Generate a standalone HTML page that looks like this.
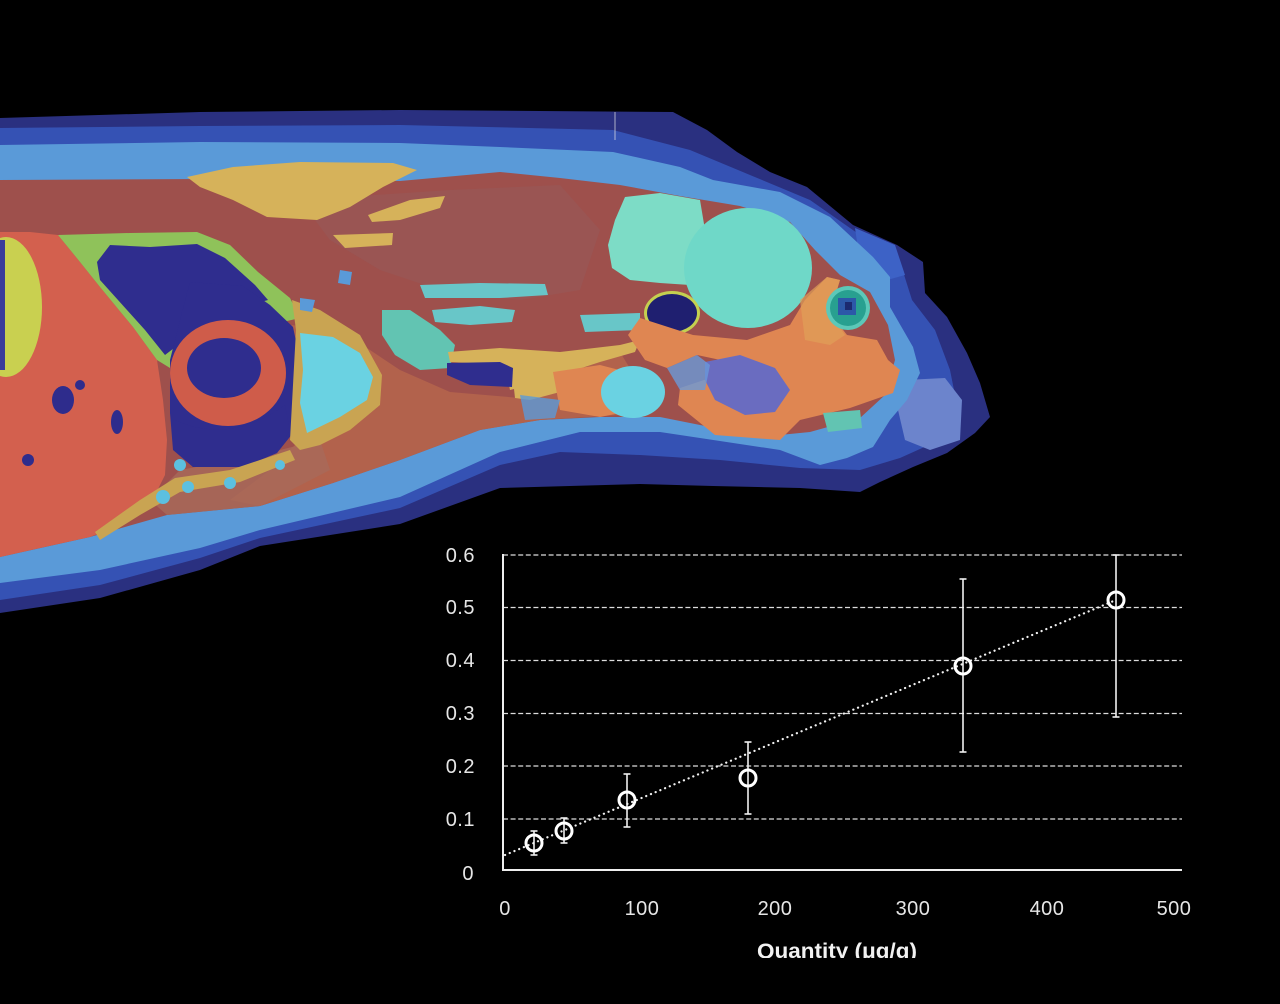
<!DOCTYPE html>
<html><head><meta charset="utf-8"><style>
html,body{margin:0;padding:0;background:#000;}
svg{display:block;}
text{font-family:"Liberation Sans","DejaVu Sans",sans-serif;}
</style></head><body>
<svg width="1280" height="1004" viewBox="0 0 1280 1004" xmlns="http://www.w3.org/2000/svg">
<rect width="1280" height="1004" fill="#000"/>
<defs><clipPath id="tclip"><rect x="0" y="0" width="1280" height="958"/></clipPath></defs>

<!-- outer navy -->
<path fill="#2a3080" d="M0,118 L200,112 L400,110 L673,112 L707,130 L737,152 L770,172 L807,187 L853,225 L897,245 L923,262 L925,293 L947,317 L967,353 L980,383 L990,417 L975,433 L947,453 L913,467 L880,482 L860,492 L800,488 L713,486 L640,484 L500,488 L400,524 L260,546 L200,570 L100,598 L0,613 Z"/>
<!-- mid blue band -->
<path fill="#3552b4" d="M0,128 L200,126 L400,125 L613,130 L690,150 L750,175 L810,200 L860,235 L900,262 L912,300 L935,330 L950,370 L958,410 L940,440 L900,458 L860,470 L800,468 L720,460 L640,455 L560,452 L500,465 L400,508 L260,538 L200,558 L100,585 L0,600 Z"/>
<!-- lighter patches in head navy -->
<path fill="#3d62c6" d="M855,228 L895,245 L905,275 L880,282 L860,262 Z"/>
<path fill="#6c84cc" d="M905,380 L945,378 L962,400 L960,440 L930,450 L905,440 L898,410 Z"/>
<!-- light blue skin -->
<path fill="#5a9ad8" d="M0,145 L200,142 L400,143 L500,147 L613,152 L680,167 L713,180 L780,192 L830,217 L873,257 L890,277 L890,307 L913,347 L920,373 L907,400 L890,420 L873,447 L847,458 L820,465 L780,450 L700,438 L660,432 L580,432 L500,452 L400,497 L260,530 L200,548 L100,570 L0,583 Z"/>
<!-- brown interior -->
<path fill="#9e504c" d="M0,180 L200,179 L400,181 L500,172 L560,178 L620,185 L680,196 L740,206 L790,222 L815,250 L840,275 L870,292 L888,325 L895,360 L885,395 L860,418 L810,432 L760,437 L700,425 L660,417 L600,417 L540,420 L480,430 L400,460 L333,483 L260,506 L167,515 L90,537 L0,557 Z"/>
<!-- lower orange-brown zone -->
<path fill="#b4644c" d="M290,325 L340,330 L400,370 L450,392 L520,398 L560,375 L620,352 L640,385 L620,415 L540,420 L480,430 L400,460 L333,483 L260,506 L230,500 L270,470 L300,440 L320,400 L300,360 Z" opacity="0.9"/>
<path fill="#985858" d="M300,200 L450,190 L560,185 L600,230 L580,290 L520,300 L440,290 L380,270 L330,240 Z" opacity="0.6"/>
<path fill="#a86a5a" d="M180,470 L260,455 L320,440 L330,470 L260,506 L167,515 L150,500 Z" opacity="0.8"/>

<!-- liver -->
<path fill="#d3604e" d="M0,232 L30,232 L58,235 L80,262 L100,287 L133,327 L157,360 L163,400 L167,440 L165,475 L150,505 L120,525 L90,537 L40,548 L0,557 Z"/>
<ellipse cx="63" cy="400" rx="11" ry="14" fill="#2e2c8c"/>
<ellipse cx="117" cy="422" rx="6" ry="12" fill="#2e2c8c"/>
<ellipse cx="28" cy="460" rx="6" ry="6" fill="#2e2c8c"/>
<ellipse cx="80" cy="385" rx="5" ry="5" fill="#2e2c8c"/>
<!-- yellow-green organ -->
<ellipse cx="6" cy="307" rx="36" ry="70" fill="#c9d050"/>
<rect x="0" y="240" width="5" height="130" fill="#3a3c9a"/>
<!-- green + navy -->
<path fill="#8fc25a" d="M58,235 L130,233 L197,232 L230,245 L258,272 L290,298 L300,318 L270,325 L230,320 L200,330 L180,345 L170,368 L157,360 L133,327 L100,287 L80,262 Z"/>
<path fill="#2f2d8e" d="M97,262 L110,245 L150,247 L197,244 L225,258 L255,285 L268,300 L240,308 L212,312 L192,322 L178,345 L165,355 L145,330 L118,300 L100,280 Z"/>
<!-- heart region -->
<path fill="#2f2d8e" d="M190,282 L243,286 L270,305 L293,327 L300,360 L300,410 L293,433 L277,453 L243,467 L193,467 L173,450 L170,413 L170,360 L180,320 Z"/>
<ellipse cx="228" cy="373" rx="58" ry="53" fill="#cf5c4a"/>
<ellipse cx="224" cy="368" rx="37" ry="30" fill="#2f2d8e"/>
<path fill="#2f2d8e" d="M175,420 Q230,445 285,405 L290,430 L277,453 L243,467 L193,467 L175,450 Z"/>
<!-- tan border + cyan -->
<path fill="#c9a452" d="M292,300 L320,310 L360,335 L382,375 L380,405 L350,430 L320,445 L300,450 L290,440 L296,330 Z"/>
<path fill="#6ad2e2" d="M300,333 L333,337 L360,353 L373,377 L367,400 L340,417 L307,433 L300,403 L303,370 Z"/>
<!-- tan streak lower-left -->
<path fill="#c9a452" d="M95,532 L140,500 L175,478 L230,470 L290,450 L295,460 L240,482 L180,492 L140,515 L100,540 Z"/>
<circle cx="163" cy="497" r="7" fill="#5cc0e0"/>
<circle cx="188" cy="487" r="6" fill="#5cc0e0"/>
<circle cx="230" cy="483" r="6" fill="#5cc0e0"/>
<circle cx="180" cy="465" r="6" fill="#5cc0e0"/>
<circle cx="280" cy="465" r="5" fill="#5cc0e0"/>
<!-- yellow fat top -->
<path fill="#d6b25a" d="M187,177 L233,167 L300,162 L393,163 L417,170 L383,187 L350,207 L317,220 L267,217 L233,200 L200,187 Z"/>
<path fill="#d6b25a" d="M368,215 L410,200 L445,196 L440,208 L400,220 L372,222 Z"/>
<path fill="#d6b25a" d="M333,235 L393,233 L392,245 L345,248 Z"/>
<!-- teal streaks middle -->
<path fill="#68c6c8" d="M420,285 L480,283 L545,284 L548,295 L500,298 L425,298 Z"/>
<path fill="#68c6c8" d="M432,310 L480,306 L515,310 L512,322 L470,325 L435,322 Z"/>
<path fill="#62c4b2" d="M382,310 L410,310 L440,330 L455,345 L450,368 L420,370 L395,355 L382,335 Z"/>
<path fill="#68c6c8" d="M580,315 L640,313 L640,330 L585,332 Z"/>
<path fill="#5a9ad8" d="M340,270 L352,272 L350,285 L338,283 Z"/>
<path fill="#5a9ad8" d="M300,298 L315,300 L312,312 L300,310 Z"/>
<!-- navy streak + yellow band -->
<path fill="#d6b25a" d="M448,352 L500,348 L560,352 L620,345 L640,340 L635,352 L600,362 L560,375 L530,385 L510,390 L505,365 L450,362 Z"/>
<path fill="#2f2d8e" d="M447,363 L500,362 L513,368 L512,387 L470,385 L447,375 Z"/>
<path fill="#d6b25a" d="M513,380 L555,372 L560,392 L530,400 L515,398 Z"/>
<!-- lower orange + cyan middle -->
<path fill="#df8652" d="M553,372 L600,365 L627,372 L625,412 L600,417 L560,410 Z"/>
<ellipse cx="633" cy="392" rx="32" ry="26" fill="#6ad2e2"/>
<path fill="#5a9ad8" d="M520,395 L560,400 L555,418 L525,420 Z" opacity="0.8"/>
<!-- brain lobes -->
<path fill="#7ddcc6" d="M625,197 L660,193 L700,200 L705,230 L700,265 L690,285 L660,283 L630,280 L612,268 L608,245 L615,220 Z"/>
<ellipse cx="748" cy="268" rx="64" ry="60" fill="#6fd8c8"/>
<!-- navy pocket -->
<ellipse cx="672" cy="313" rx="28" ry="22" fill="#c4d050"/>
<ellipse cx="672" cy="313" rx="25" ry="19" fill="#1f1f70"/>
<!-- head orange -->
<path fill="#df8652" d="M640,318 L693,335 L747,340 L790,325 L805,300 L827,277 L840,280 L830,313 L847,335 L877,340 L888,360 L900,370 L893,393 L850,408 L800,420 L780,440 L715,435 L678,405 L680,388 L713,377 L730,362 L697,355 L667,368 L645,360 L628,335 Z"/>
<path fill="#e0a058" d="M800,300 L827,277 L840,280 L830,313 L845,335 L830,345 L805,340 Z" opacity="0.7"/>
<path fill="#6a6cc0" d="M705,362 L740,355 L775,368 L790,390 L775,412 L745,415 L715,400 L705,380 Z"/>
<path fill="#62c4b2" d="M823,413 L860,410 L862,428 L828,432 Z"/>
<path fill="#6a9ad8" d="M667,368 L697,355 L710,365 L705,390 L680,390 Z" opacity="0.8"/>
<!-- eye -->
<circle cx="848" cy="308" r="22" fill="#5cc8b8"/>
<circle cx="848" cy="308" r="18" fill="#28a090"/>
<rect x="838" y="298" width="18" height="17" fill="#2c58a8"/>
<rect x="845" y="302" width="7" height="8" fill="#1c2a70"/>

<!-- artifact line -->
<line x1="615" y1="112" x2="615" y2="140" stroke="#e8e8e8" stroke-width="1" opacity="0.7"/>

<!-- ===== chart ===== -->
<g stroke="#dcdcdc" stroke-width="1.3" stroke-dasharray="5 2.6" fill="none">
<line x1="503" y1="555" x2="1182" y2="555"/>
<line x1="503" y1="607.5" x2="1182" y2="607.5"/>
<line x1="503" y1="660.5" x2="1182" y2="660.5"/>
<line x1="503" y1="713.5" x2="1182" y2="713.5"/>
<line x1="503" y1="766" x2="1182" y2="766"/>
<line x1="503" y1="819" x2="1182" y2="819"/>
</g>
<line x1="503" y1="554" x2="503" y2="871" stroke="#eee" stroke-width="2"/>
<line x1="502" y1="870" x2="1182" y2="870" stroke="#eee" stroke-width="2"/>

<!-- trend line -->
<line x1="505" y1="855" x2="1116" y2="600" stroke="#f0f0f0" stroke-width="2.2" stroke-dasharray="0.1 5" stroke-linecap="round"/>

<!-- error bars -->
<g stroke="#f0f0f0" stroke-width="1.6" fill="none">
<line x1="534" y1="831" x2="534" y2="855"/><line x1="530.5" y1="831" x2="537.5" y2="831"/><line x1="530.5" y1="855" x2="537.5" y2="855"/>
<line x1="564" y1="818" x2="564" y2="843"/><line x1="560.5" y1="818" x2="567.5" y2="818"/><line x1="560.5" y1="843" x2="567.5" y2="843"/>
<line x1="627" y1="774" x2="627" y2="827"/><line x1="623.5" y1="774" x2="630.5" y2="774"/><line x1="623.5" y1="827" x2="630.5" y2="827"/>
<line x1="748" y1="742" x2="748" y2="814"/><line x1="744.5" y1="742" x2="751.5" y2="742"/><line x1="744.5" y1="814" x2="751.5" y2="814"/>
<line x1="963" y1="579" x2="963" y2="752"/><line x1="959.5" y1="579" x2="966.5" y2="579"/><line x1="959.5" y1="752" x2="966.5" y2="752"/>
<line x1="1116" y1="555" x2="1116" y2="717"/><line x1="1112.5" y1="555" x2="1119.5" y2="555"/><line x1="1112.5" y1="717" x2="1119.5" y2="717"/>
</g>
<g stroke="#ffffff" stroke-width="3" fill="none">
<circle cx="534" cy="843" r="8"/>
<circle cx="564" cy="831" r="8"/>
<circle cx="627" cy="800" r="8"/>
<circle cx="748" cy="778" r="8"/>
<circle cx="963" cy="666" r="8"/>
<circle cx="1116" cy="600" r="8"/>
</g>

<!-- y tick labels -->
<g fill="#e6e6e6" font-size="20" text-anchor="end" letter-spacing="0.5">
<text x="475" y="562">0.6</text>
<text x="475" y="614">0.5</text>
<text x="475" y="667">0.4</text>
<text x="475" y="720">0.3</text>
<text x="475" y="773">0.2</text>
<text x="475" y="826">0.1</text>
<text x="474" y="880">0</text>
</g>
<!-- x tick labels -->
<g fill="#e6e6e6" font-size="20" text-anchor="middle" letter-spacing="0.5">
<text x="505" y="915">0</text>
<text x="642" y="915">100</text>
<text x="775" y="915">200</text>
<text x="913" y="915">300</text>
<text x="1047" y="915">400</text>
<text x="1174" y="915">500</text>
</g>
<g clip-path="url(#tclip)">
<text x="837" y="958" fill="#f2f2f2" font-size="21" font-weight="bold" text-anchor="middle" textLength="160" lengthAdjust="spacingAndGlyphs">Quantity (μg/g)</text>
</g>
</svg>
</body></html>
